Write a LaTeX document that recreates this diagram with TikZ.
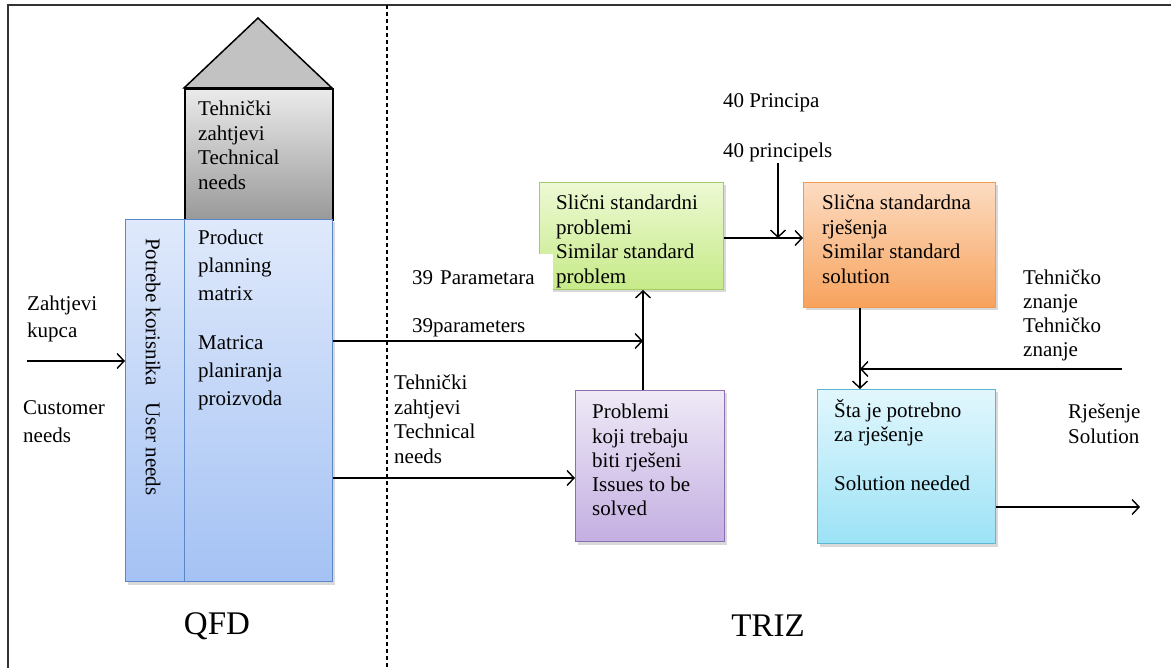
\documentclass[tikz,border=0pt]{standalone}
\usepackage{fontspec}
\setmainfont{Liberation Serif}
\usetikzlibrary{arrows.meta,shadows}

\definecolor{plavaG}{HTML}{DFE9FB}
\definecolor{plavaD}{HTML}{A4C2F4}
\definecolor{plavaR}{HTML}{5A87C8}
\definecolor{zelenaG}{HTML}{EDF9D4}
\definecolor{zelenaD}{HTML}{C6EA88}
\definecolor{zelenaR}{HTML}{A6C96A}
\definecolor{narandzG}{HTML}{FCDCC2}
\definecolor{narandzD}{HTML}{F7A25C}
\definecolor{narandzR}{HTML}{F09A52}
\definecolor{ljubG}{HTML}{EEE9F6}
\definecolor{ljubD}{HTML}{C4AFE2}
\definecolor{ljubR}{HTML}{8C6FB3}
\definecolor{cijanG}{HTML}{E2F7FD}
\definecolor{cijanD}{HTML}{9CE2F6}
\definecolor{cijanR}{HTML}{5BB7D2}

\begin{document}
\begin{tikzpicture}[x=1pt,y=-1pt,
  box/.style={draw, inner sep=0pt, anchor=north west, line width=1pt,
    drop shadow={shadow xshift=2pt, shadow yshift=-3pt, opacity=0.3}},
  txt/.style={font=\fontsize{21}{24.5}\selectfont, align=left, inner sep=0pt, anchor=north west},
  naslov/.style={font=\fontsize{33}{40}\selectfont, inner sep=0pt},
  arr/.style={-{Straight Barb[length=7pt,width=15pt]}, line width=1.4pt}]
\useasboundingbox (0,0) rectangle (1171,668);

% frame and divider
\draw[line width=2pt, black!80] (8,668) -- (8,5) -- (1171,5);
\draw[line width=1.5pt, dash pattern=on 4pt off 3pt] (387,5) -- (387,668);

% QFD house
\draw[line width=1.5pt, fill=black!24] (184,88) -- (258,18) -- (332,88) -- cycle;
\node[draw, inner sep=0pt, anchor=north west, line width=2pt, top color=black!8, bottom color=black!40,
  minimum width=148, minimum height=131] (tehnicki) at (184,88) {};
\node[box, draw=plavaR, top color=plavaG, bottom color=plavaD, minimum width=59, minimum height=362] (potrebe) at (125,219) {};
\node[box, draw=plavaR, top color=plavaG, bottom color=plavaD, minimum width=148, minimum height=362] (matrica) at (184,219) {};

\node[txt] (tehnickiT) at (198,101) {Tehnički\\zahtjevi\\Technical\\needs};
\node[txt, font=\fontsize{21}{28}\selectfont] (matricaT) at (198,230)
  {Product\\planning\\matrix\\[21pt]Matrica\\planiranja\\proizvoda};
\node[txt, anchor=west, rotate=-90] (potrebeT) at (153,238) {Potrebe korisnika\hspace{17pt}User needs};

\node[txt, font=\fontsize{21}{27}\selectfont] (kupca) at (27,296) {Zahtjevi\\kupca};
\node[txt, font=\fontsize{21}{28}\selectfont] (customer) at (23,400) {Customer\\needs};
\coordinate (ulaz) at (27,361);
\draw[arr] (ulaz) -- (ulaz -| potrebe.west);

% TRIZ boxes
\node[box, draw=zelenaR, top color=zelenaG, bottom color=zelenaD, minimum width=184, minimum height=107] (slicni) at (539,182) {};
\node[txt] (slicniT) at (556,195) {Slični standardni\\problemi\\Similar standard\\problem};
\node[txt, fill=white, text width=141, inner ysep=16pt] (param) at (412,254) {39 Parametara};
\node[txt] (paramEn) at (412,318) {39parameters};

\node[box, draw=ljubR, top color=ljubG, bottom color=ljubD, minimum width=149, minimum height=151] (problemi) at (575,390) {};
\node[txt, font=\fontsize{21}{24.3}\selectfont] (problemiT) at (592,404) {Problemi\\koji trebaju\\biti rješeni\\Issues to be\\solved};
\node[txt] (tzahtjevi) at (394,375) {Tehnički\\zahtjevi\\Technical\\needs};

\node[box, draw=narandzR, top color=narandzG, bottom color=narandzD, minimum width=192, minimum height=125] (rjesenja) at (803,182) {};
\node[txt] (rjesenjaT) at (822,195) {Slična standardna\\rješenja\\Similar standard\\solution};
\node[txt] (princ) at (723,93) {40 Principa};
\node[txt] (princEn) at (723,143) {40 principels};

\node[box, draw=cijanR, top color=cijanG, bottom color=cijanD, minimum width=178, minimum height=154] (potrebno) at (817,389) {};
\node[txt] (potrebnoT) at (834,399) {Šta je potrebno\\za rješenje\\[24.5pt]Solution needed};
\node[txt, font=\fontsize{21}{24}\selectfont] (znanje) at (1023,270) {Tehničko\\znanje\\Tehničko\\znanje};
\node[txt, font=\fontsize{21}{25}\selectfont] (rjesenje) at (1068,404) {Rješenje\\Solution};

\node[naslov] (qfd) at (217,626) {QFD};
\node[naslov] (triz) at (768,626) {TRIZ};

% connectors
\coordinate (spoj1) at (643,341);
\coordinate (spoj2) at (778,238);
\coordinate (spoj3) at (860,369);
\coordinate (p40) at (778,163);
\coordinate (tznanje) at (1122,369);
\coordinate (izlaz) at (1140,507);
\draw[arr] (matrica.east |- spoj1) -- (spoj1);
\draw[arr] (matrica.east |- 0,478) -- (problemi.west |- 0,478);
\draw[arr] (spoj1 |- problemi.north) -- (spoj1 |- slicni.south);
\draw[arr] (slicni.east |- spoj2) -- (rjesenja.west |- spoj2);
\draw[arr] (p40) -- (spoj2);
\draw[arr] (spoj3 |- rjesenja.south) -- (spoj3 |- potrebno.north);
\draw[arr] (tznanje) -- (spoj3);
\draw[arr] (potrebno.east |- izlaz) -- (izlaz);
\end{tikzpicture}
\end{document}
